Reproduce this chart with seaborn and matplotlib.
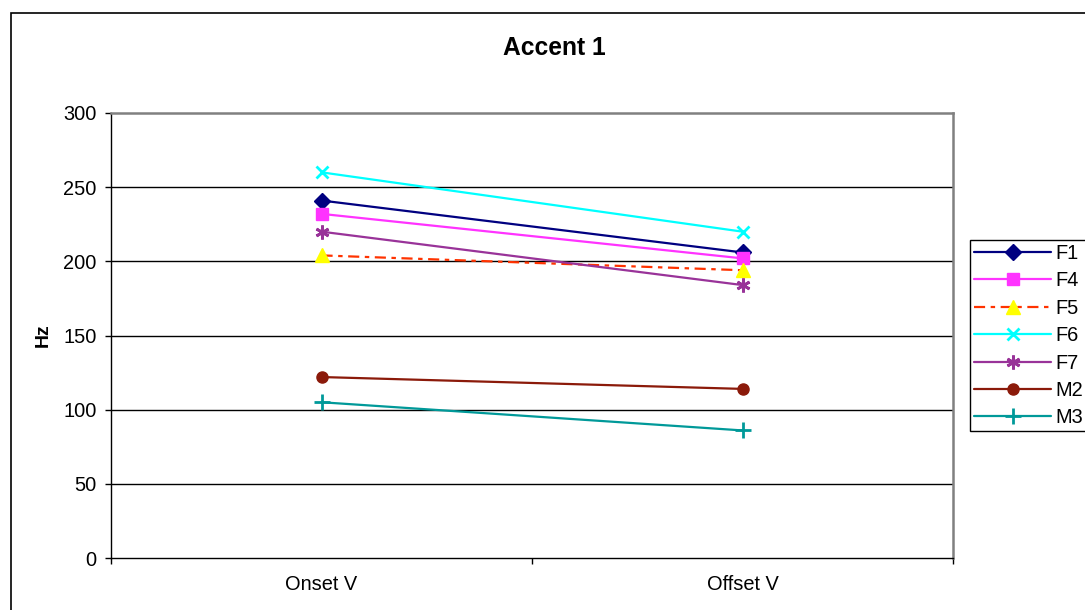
import matplotlib
matplotlib.use("Agg")
import matplotlib.pyplot as plt
import seaborn as sns
import pandas as pd
from matplotlib.patches import Rectangle

categories = ["Onset V", "Offset V"]
series_names = ["F1", "F4", "F5", "F6", "F7", "M2", "M3"]
F1 = [241, 206]
F4 = [232, 202]
F5 = [204, 194]
F6 = [260, 220]
F7 = [220, 184]
M2 = [122, 114]
M3 = [105, 86]
values = [F1, F4, F5, F6, F7, M2, M3]
y_ticks = [0, 50, 100, 150, 200, 250, 300]

line_colors = ["#000080", "#FF33FF", "#FF3300", "#00FFFF", "#993399", "#8B1A0A", "#009999"]
marker_face = ["#000080", "#FF33FF", "#FFFF00", "#00FFFF", "#993399", "#8B1A0A", "#009999"]
markers = ["D", "s", "^", "x", (6, 2, 0), "o", "+"]
msizes = [8.5, 9, 10.5, 9, 10, 8, 11]
linestyles = ["-", "-", (0, (5, 2.5, 2, 2.5)), "-", "-", "-", "-"]

sns.set_theme(style="white")
plt.rcParams["font.family"] = ["Liberation Sans", "DejaVu Sans"]

W, H = 1085, 610
fig = plt.figure(figsize=(W / 100, H / 100), dpi=100)
L, R, T, B = 111, 953, 113, 558
ax = fig.add_axes([L / W, 1 - B / H, (R - L) / W, (B - T) / H])

for name, vals, lc, mf, mk, ms, ls in zip(series_names, values, line_colors, marker_face,
                                          markers, msizes, linestyles):
    df = pd.DataFrame({"x": [0, 1], "y": vals})
    sns.lineplot(data=df, x="x", y="y", ax=ax, color=lc, legend=False)
    ln = ax.lines[-1]
    ln.set_marker(mk)
    ln.set_markersize(ms)
    ln.set_markerfacecolor(mf)
    ln.set_markeredgecolor(mf)
    ln.set_markeredgewidth(2 if mk in ("x", "+") or isinstance(mk, tuple) else 1)
    ln.set_linestyle(ls)
    ln.set_linewidth(1.6)
    ln.set_label(name)

ax.set_xlim(-0.5, 1.5)
ax.set_ylim(0, 300)
ax.set_yticks(y_ticks)
ax.set_xticks([0, 1])
ax.set_xticklabels(categories)
ax.set_xticks([-0.5, 0.5, 1.5], minor=True)
ax.tick_params(axis="x", which="major", length=0, pad=12, labelsize=14.4, colors="black")
ax.tick_params(axis="x", which="minor", length=4.5, width=1, color="black", bottom=True)
ax.tick_params(axis="y", which="major", length=4.5, width=1, color="black", left=True,
               pad=6, labelsize=14.4, labelcolor="black")
ax.set_xlabel("")
ax.set_ylabel("")
ax.grid(False)
for y in y_ticks[1:-1]:
    ax.axhline(y, color="black", lw=1, zorder=0)
for s in ["left", "bottom"]:
    ax.spines[s].set_color("black")
    ax.spines[s].set_linewidth(1)
for s in ["top", "right"]:
    ax.spines[s].set_color("#808080")
    ax.spines[s].set_linewidth(1.8)

fig.text(554 / W, 1 - 48 / H, "Accent 1", ha="center", va="center", fontsize=17.7,
         fontweight="bold", color="black")
fig.text(43 / W, 1 - 335 / H, "Hz", ha="center", va="center", fontsize=14,
         fontweight="bold", rotation=90, color="black")

fig.patches.append(Rectangle((11 / W, -0.1), 1.2, 1 - 13 / H + 0.1, transform=fig.transFigure,
                             fill=False, edgecolor="black", lw=1.2, zorder=-1))

leg = ax.legend(handles=ax.lines[:len(series_names)], loc="upper left",
                bbox_to_anchor=(970 / W, 1 - 240 / H), bbox_transform=fig.transFigure,
                borderaxespad=0, fancybox=False, framealpha=1, edgecolor="black",
                fontsize=14.4, handlelength=3.85, handletextpad=0.2, labelspacing=0.42,
                borderpad=0.2, frameon=True)
leg.get_frame().set_linewidth(1)
for t in leg.get_texts():
    t.set_color("black")

fig.savefig("out.png", dpi=100, facecolor="white")
